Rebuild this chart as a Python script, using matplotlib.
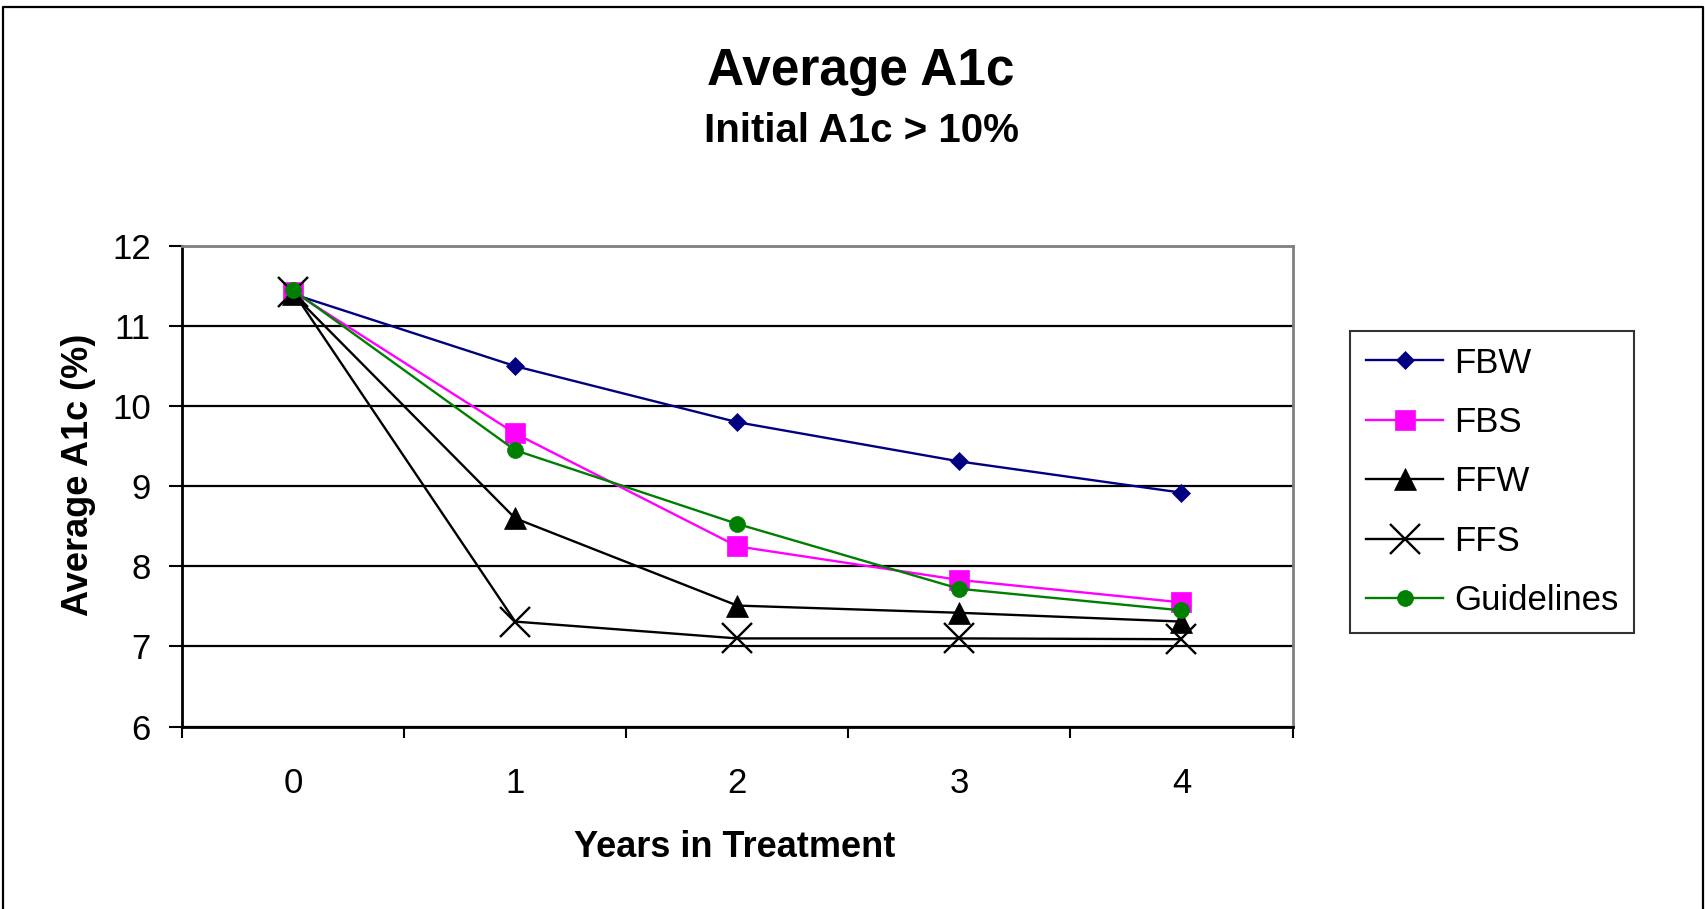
import matplotlib
matplotlib.use("Agg")
import matplotlib.pyplot as plt
from matplotlib.lines import Line2D

plt.rcParams['font.family'] = ['Liberation Sans', 'DejaVu Sans']

years = [0, 1, 2, 3, 4]
year_labels = ["0", "1", "2", "3", "4"]
fbw = [11.40, 10.50, 9.80, 9.31, 8.92]
fbs = [11.43, 9.66, 8.25, 7.83, 7.55]
ffw = [11.40, 8.60, 7.51, 7.42, 7.31]
ffs = [11.43, 7.31, 7.10, 7.10, 7.09]
guidelines = [11.45, 9.45, 8.53, 7.72, 7.45]

series_names = ["FBW", "FBS", "FFW", "FFS", "Guidelines"]
series_values = [fbw, fbs, ffw, ffs, guidelines]
series_colors = ["#000080", "#FF00FF", "#000000", "#000000", "#008000"]
series_markers = ["D", "s", "^", "x", "o"]
series_msize = [9.5, 14, 16, 21, 11.5]

title = "Average A1c"
subtitle = "Initial A1c > 10%"
xlabel = "Years in Treatment"
ylabel = "Average A1c (%)"

W, H = 1705, 909
fig = plt.figure(figsize=(W / 100, H / 100), dpi=100)
ax = fig.add_axes([182 / W, 1 - 726.5 / H, (1292.5 - 182) / W, (726.5 - 246) / H])

for name, vals, col, mk, ms in zip(series_names, series_values, series_colors,
                                   series_markers, series_msize):
    ax.plot(years, vals, color=col, lw=1.7, marker=mk, markersize=ms,
            markerfacecolor=col, markeredgecolor=col,
            markeredgewidth=1.7 if mk == "x" else 0.5, label=name,
            clip_on=False, zorder=3)

ax.set_xlim(-0.5, 4.5)
ax.set_ylim(6, 12)
ax.set_yticks([6, 7, 8, 9, 10, 11, 12])
ax.tick_params(axis='y', which='major', direction='out', length=9.5, width=1.5,
               labelsize=25, pad=13, colors='black')

# category boundaries as major ticks (no labels), centers as minor ticks with labels
ax.set_xticks([-0.5, 0.5, 1.5, 2.5, 3.5, 4.5])
ax.set_xticklabels([])
ax.set_xticks(years, minor=True)
ax.set_xticklabels(year_labels, minor=True)
ax.tick_params(axis='x', which='major', direction='out', length=8, width=1.5)
ax.tick_params(axis='x', which='minor', length=0, labelsize=25, pad=29)

ax.yaxis.grid(True, color='black', lw=1.6)
ax.set_axisbelow(True)
for s in ['left', 'bottom']:
    ax.spines[s].set_color('black')
    ax.spines[s].set_linewidth(2)
for s in ['top', 'right']:
    ax.spines[s].set_color('#808080')
    ax.spines[s].set_linewidth(2)

fig.text(861 / W, 1 - 85 / H, title, ha='center', va='baseline',
         fontsize=37, fontweight='bold')
fig.text(861 / W, 1 - 141.7 / H, subtitle, ha='center', va='baseline',
         fontsize=29, fontweight='bold')
fig.text(735 / W, 1 - 856.7 / H, xlabel, ha='center', va='baseline',
         fontsize=26, fontweight='bold')
fig.text(78.5 / W, 1 - 474.6 / H, ylabel, ha='center', va='center',
         rotation=90, fontsize=26, fontweight='bold')

leg = fig.legend(loc='upper left', bbox_to_anchor=(1350 / W, 1 - 331 / H),
                 borderaxespad=0, fontsize=25, handlelength=2.24,
                 handletextpad=0.3, labelspacing=0.76, borderpad=0.45,
                 frameon=True, fancybox=False, edgecolor='black')
leg.get_frame().set_linewidth(1.5)

# outer chart border (left, top, right)
fig.add_artist(Line2D([3 / W, 3 / W, 1703 / W, 1703 / W],
                      [0, 1 - 7 / H, 1 - 7 / H, 0],
                      transform=fig.transFigure, color='black', lw=1.6))

fig.savefig("out.png", dpi=100)
